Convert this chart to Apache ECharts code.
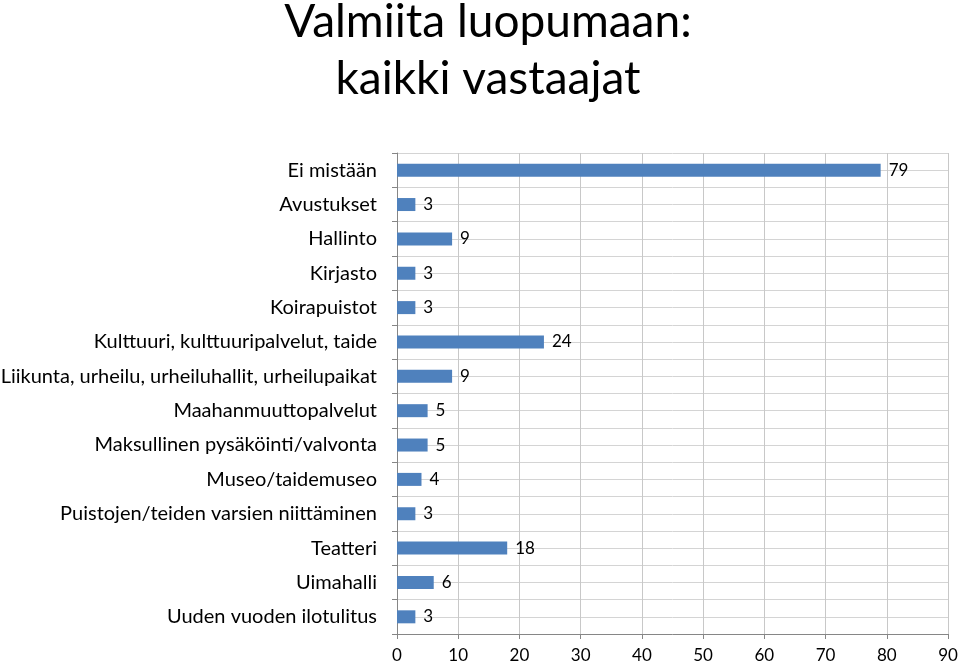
<!DOCTYPE html>
<html><head><meta charset="utf-8">
<script src="https://cdn.jsdelivr.net/npm/echarts@6/dist/echarts.min.js"></script>
<style>html,body{margin:0;padding:0;background:#fff}#c{width:960px;height:665px}</style>
</head><body><div id="c"></div>
<script>
const categories = ["Ei mistään","Avustukset","Hallinto","Kirjasto","Koirapuistot","Kulttuuri, kulttuuripalvelut, taide","Liikunta, urheilu, urheiluhallit, urheilupaikat","Maahanmuuttopalvelut","Maksullinen pysäköinti/valvonta","Museo/taidemuseo","Puistojen/teiden varsien niittäminen","Teatteri","Uimahalli","Uuden vuoden ilotulitus"];
const values = [79,3,9,3,3,24,9,5,5,4,3,18,6,3];
const titleLines = ["Valmiita luopumaan:","kaikki vastaajat"];
const FONT = "Lato";
const chart = echarts.init(document.getElementById('c'));
chart.setOption({
  animation:false,
  textStyle:{fontFamily:FONT},
  title:{text:titleLines.join("\n"),left:483,textAlign:'center',top:-11,
    textStyle:{fontFamily:FONT,fontSize:46,fontWeight:'normal',color:'#000',lineHeight:57}},
  grid:{left:397,right:12,top:153,bottom:31,containLabel:false,outerBoundsMode:'none'},
  xAxis:{type:'value',min:0,max:90,interval:10,
    axisLine:{show:true,lineStyle:{color:'#868686'}},
    axisTick:{show:true,length:5,lineStyle:{color:'#868686'}},
    axisLabel:{color:'#000',fontSize:17,margin:13,fontFamily:FONT},
    splitLine:{show:true,lineStyle:{color:'#c8c8c8'}}},
  yAxis:[{type:'category',data:categories,inverse:true,
    axisLine:{show:true,lineStyle:{color:'#868686'}},
    axisTick:{show:true,length:5,lineStyle:{color:'#868686'}},
    axisLabel:{color:'#000',fontSize:20,margin:20,fontFamily:FONT},
    splitLine:{show:false}},
   {type:'value',min:0,max:categories.length,interval:0.5,position:'left',
    axisLine:{show:false},axisTick:{show:false},axisLabel:{show:false},
    splitLine:{show:true,lineStyle:{color:'#d4d4d4'}}}],
  series:[{type:'bar',data:values,yAxisIndex:0,barWidth:13,
    itemStyle:{color:'#4f81bd'},
    label:{show:true,position:'right',distance:8,color:'#000',fontSize:17,fontFamily:FONT}}]
});
</script></body></html>
